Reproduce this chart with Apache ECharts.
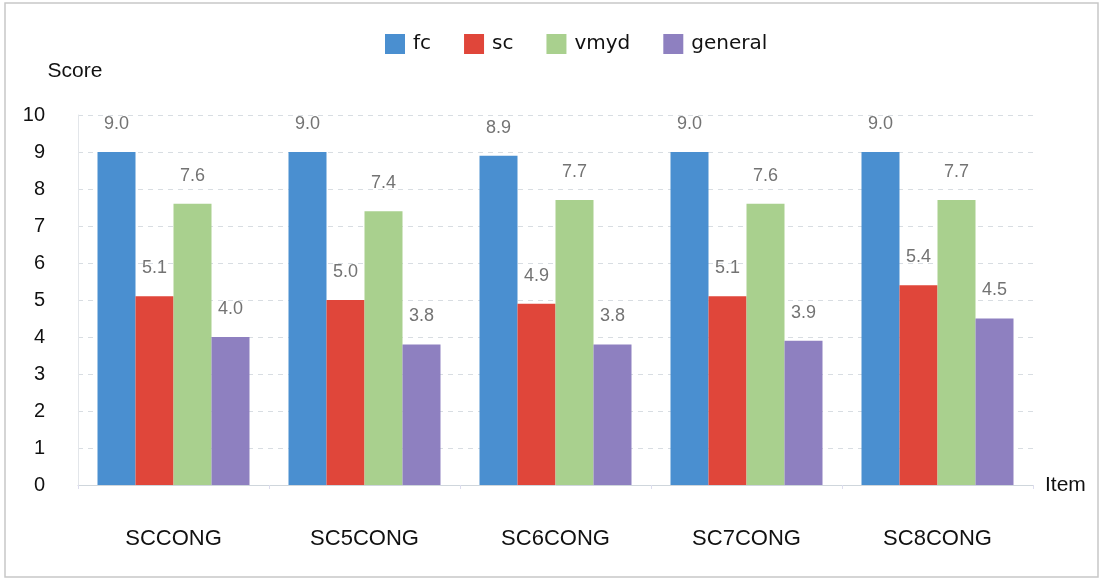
<!DOCTYPE html>
<html>
<head>
<meta charset="utf-8">
<script src="https://cdn.jsdelivr.net/npm/echarts@6/dist/echarts.min.js"></script>
<style>
html,body{margin:0;padding:0;background:#fff;}
#c{width:1104px;height:580px;}
</style>
</head>
<body>
<div id="c"></div>
<script>
const categories = ['SCCONG', 'SC5CONG', 'SC6CONG', 'SC7CONG', 'SC8CONG'];
const seriesNames = ['fc', 'sc', 'vmyd', 'general'];
const fc = [9.0, 9.0, 8.9, 9.0, 9.0];
const sc = [5.1, 5.0, 4.9, 5.1, 5.4];
const vmyd = [7.6, 7.4, 7.7, 7.6, 7.7];
const general = [4.0, 3.8, 3.8, 3.9, 4.5];
const colors = ['#4a8fd0', '#e0463a', '#a9d08e', '#8e80c0'];

const chart = echarts.init(document.getElementById('c'));
const values = [fc, sc, vmyd, general];
chart.setOption({
  animation: false,
  color: colors,
  textStyle: { fontFamily: 'Liberation Sans, Arial, sans-serif' },
  graphic: [{
    type: 'rect', shape: { x: 5, y: 3, width: 1093, height: 574 },
    style: { fill: 'none', stroke: '#c8c8c8', lineWidth: 1.5 }, silent: true
  }],
  legend: {
    top: 29, left: 380,
    icon: 'rect',
    itemWidth: 20, itemHeight: 20, itemGap: 33,
    textStyle: { fontSize: 20, color: '#111', fontFamily: 'DejaVu Sans', padding: [0, 0, 0, 3] },
    data: seriesNames
  },
  grid: { left: 78, right: 71, top: 115, bottom: 95 },
  xAxis: {
    type: 'category', data: categories,
    name: 'Item', nameLocation: 'end', nameGap: 12,
    nameTextStyle: { fontSize: 21, color: '#111', verticalAlign: 'middle' },
    axisLine: { lineStyle: { color: '#cfd6dc' } },
    axisTick: { show: true, length: 4, lineStyle: { color: '#dde' } },
    axisLabel: { margin: 43, fontSize: 22, color: '#111' }
  },
  yAxis: {
    type: 'value', min: 0, max: 10, interval: 1,
    name: 'Score', nameLocation: 'end', nameGap: 33,
    nameTextStyle: { fontSize: 21, color: '#111', align: 'center', padding: [0, 6, 0, 0] },
    axisLine: { show: true, lineStyle: { color: '#e3e6ea' } },
    axisTick: { show: false },
    axisLabel: { margin: 33, fontSize: 20, color: '#111' },
    splitLine: { lineStyle: { color: '#d8dde2', type: [5, 5] } }
  },
  series: seriesNames.map((n, i) => ({
    name: n, type: 'bar', data: values[i],
    barWidth: 38, barGap: '0%',
    label: {
      show: true, position: 'top', distance: 19,
      fontSize: 18, color: '#737373',
      formatter: p => p.value.toFixed(1)
    }
  }))
});
</script>
</body>
</html>
